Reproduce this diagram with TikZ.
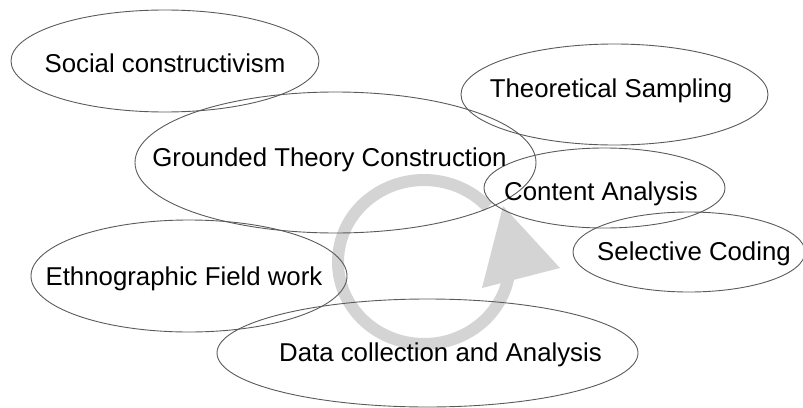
\documentclass[tikz,border=0pt]{standalone}
\usepackage{fontspec}
\setmainfont{Liberation Sans}
\usetikzlibrary{shapes.geometric}
\definecolor{ovalc}{HTML}{5A5A5A}
\definecolor{ringc}{HTML}{D4D4D4}
\newcommand\lbfont{\fontsize{12.9}{15}\selectfont}
\begin{document}
\begin{tikzpicture}[x=0.5pt,y=-0.5pt,
  oval/.style={ellipse, draw=ovalc, line width=0.45pt, inner sep=0pt},
  lbl/.style={anchor=base, inner sep=0pt, font=\lbfont},
  ring/.style={draw=ringc, line width=6pt, line cap=butt}]
\useasboundingbox (0,0) rectangle (803,407);
% circular arrow
\coordinate (rc) at (424,262);
\draw[ring] (rc) ++(-42:86 and 82) arc[start angle=-42, end angle=-350, x radius=86, y radius=82];
\coordinate (hbl) at (482,288);
\coordinate (htip) at (503,206);
\coordinate (hbr) at (560,268);
\fill[ringc] (hbl) -- (htip) -- (hbr) -- cycle;
% ellipses
\node[oval, minimum width=154pt, minimum height=51pt] (sc) at (165,61) {};
\node[oval, minimum width=153.5pt, minimum height=50.5pt] (ts) at (614.5,94.5) {};
\node[oval, minimum width=200.5pt, minimum height=70.5pt] (gt) at (335.5,162.5) {};
\node[oval, minimum width=120.5pt, minimum height=40pt] (ca) at (604.5,188) {};
\node[oval, minimum width=116pt, minimum height=40pt] (sco) at (689,252) {};
\node[oval, minimum width=158pt, minimum height=56pt] (ef) at (189,276) {};
\node[oval, minimum width=210.5pt, minimum height=54pt] (dc) at (427.5,353) {};
% labels
\node[lbl] (tsc) at (165,72) {Social constructivism};
\node[lbl] (tts) at (611,97) {Theoretical Sampling};
\node[lbl] (tgt) at (329.5,166) {Grounded Theory Construction};
\node[lbl] (tca) at (601,200) {Content Analysis};
\node[lbl] (tsco) at (694,260) {Selective Coding};
\node[lbl] (tef) at (184,285) {Ethnographic Field work};
\node[lbl] (tdc) at (440.5,361) {Data collection and Analysis};
\end{tikzpicture}
\end{document}
